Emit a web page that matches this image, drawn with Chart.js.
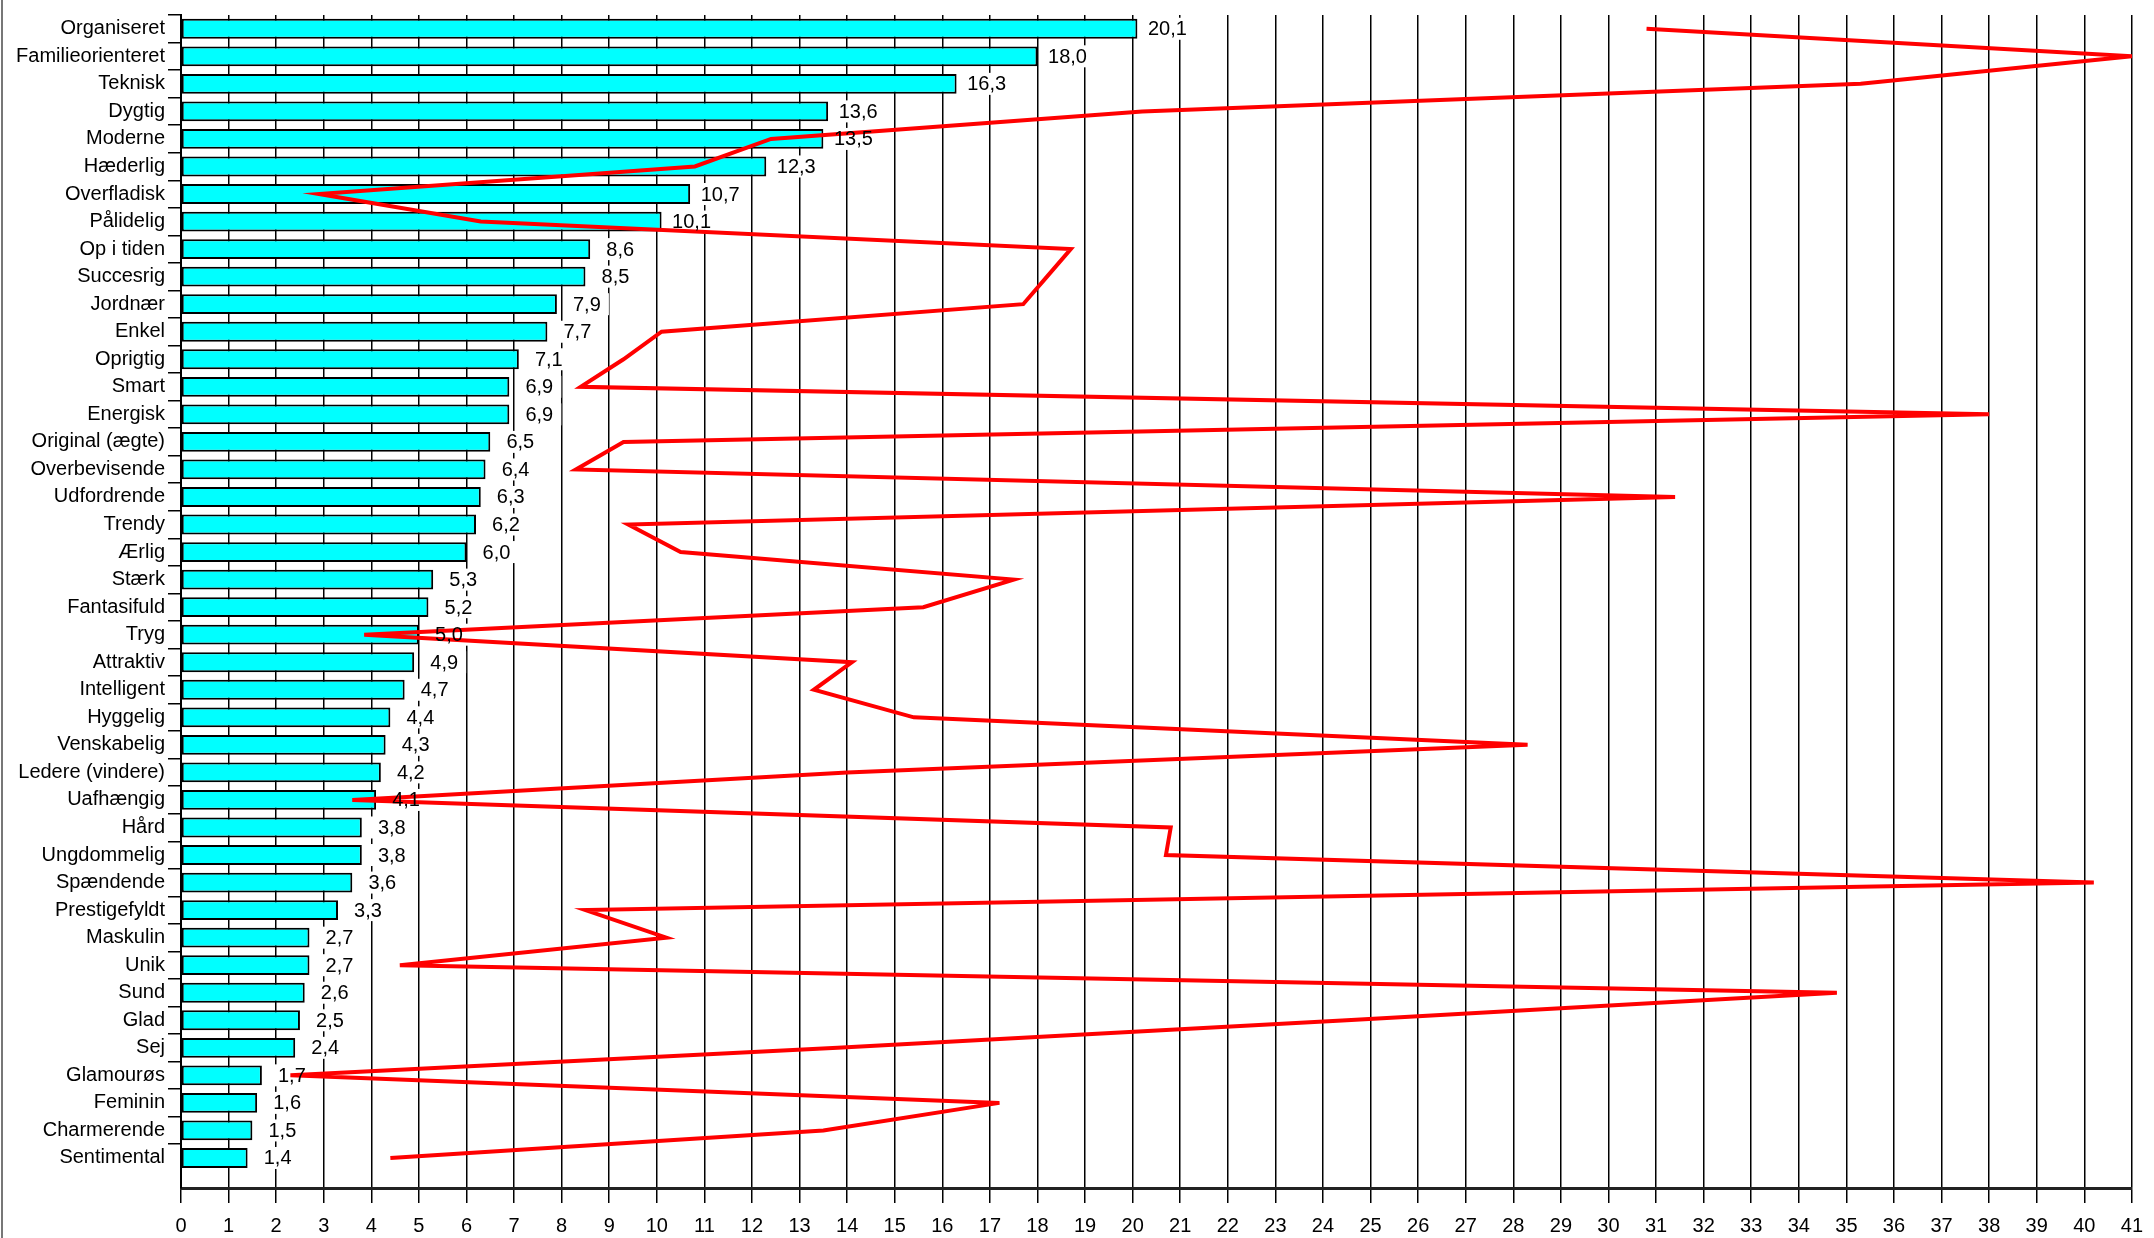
<!DOCTYPE html>
<html>
<head>
<meta charset="utf-8">
<script src="https://cdn.jsdelivr.net/npm/chart.js@4.4.1/dist/chart.umd.min.js"></script>
<style>
  html, body { margin: 0; padding: 0; background: #fff; }
  #wrap { width: 2154px; height: 1238px; position: relative; }
</style>
</head>
<body>
<div id="wrap"><canvas id="c" width="2154" height="1238"></canvas></div>
<script>
// Brand attributes, top to bottom
const categories = [
  'Organiseret', 'Familieorienteret', 'Teknisk', 'Dygtig', 'Moderne', 'Hæderlig',
  'Overfladisk', 'Pålidelig', 'Op i tiden', 'Succesrig', 'Jordnær', 'Enkel',
  'Oprigtig', 'Smart', 'Energisk', 'Original (ægte)', 'Overbevisende', 'Udfordrende',
  'Trendy', 'Ærlig', 'Stærk', 'Fantasifuld', 'Tryg', 'Attraktiv', 'Intelligent',
  'Hyggelig', 'Venskabelig', 'Ledere (vindere)', 'Uafhængig', 'Hård', 'Ungdommelig',
  'Spændende', 'Prestigefyldt', 'Maskulin', 'Unik', 'Sund', 'Glad', 'Sej',
  'Glamourøs', 'Feminin', 'Charmerende', 'Sentimental'
];

// Bar values (percent)
const barValues = [
  20.1, 18.0, 16.3, 13.6, 13.5, 12.3, 10.7, 10.1, 8.6, 8.5, 7.9, 7.7,
  7.1, 6.9, 6.9, 6.5, 6.4, 6.3, 6.2, 6.0, 5.3, 5.2, 5.0, 4.9, 4.7,
  4.4, 4.3, 4.2, 4.1, 3.8, 3.8, 3.6, 3.3, 2.7, 2.7, 2.6, 2.5, 2.4,
  1.7, 1.6, 1.5, 1.4
];

// Second series, drawn as a red line across the same rows
const lineValues = [
  30.8, 41.0, 35.3, 20.2, 12.4, 10.8, 2.9, 6.3, 18.7, 18.2, 17.7, 10.1,
  9.3, 8.4, 38.0, 9.3, 8.3, 31.4, 9.4, 10.5, 17.5, 15.6, 3.85, 14.1, 13.3,
  15.4, 28.3, 14.0, 3.6, 20.8, 20.7, 40.2, 8.5, 10.2, 4.6, 34.8, 24.5, 13.8,
  2.3, 17.2, 13.5, 4.4
];

// Horizontal axis range
const xMin = 0;
const xMax = 41;

const FONT = '"Liberation Sans", Arial, sans-serif';
const FONT_SIZE = 20;
const fmt = v => v.toFixed(1).replace('.', ',');

// White tag boxes behind the value labels (they hide the grid), text on top of everything
const valueLabels = {
  id: 'valueLabels',
  afterDatasetDraw(chart, args) {
    if (args.index !== 0) return;
    const ctx = chart.ctx;
    ctx.save();
    ctx.fillStyle = '#fff';
    args.meta.data.forEach(bar => {
      ctx.fillRect(bar.x + 8, bar.y - 11, 44, 22);
    });
    ctx.restore();
  },
  afterDatasetsDraw(chart) {
    const ctx = chart.ctx;
    const meta = chart.getDatasetMeta(0);
    ctx.save();
    ctx.font = FONT_SIZE + 'px ' + FONT;
    ctx.fillStyle = '#000';
    ctx.textAlign = 'center';
    ctx.textBaseline = 'middle';
    meta.data.forEach((bar, i) => {
      ctx.fillText(fmt(barValues[i]), bar.x + 30, bar.y + 1);
    });
    ctx.restore();
  }
};

// Page background and the thin frame line on the left edge
const frame = {
  id: 'frame',
  beforeDraw(chart) {
    const ctx = chart.ctx;
    ctx.save();
    ctx.fillStyle = '#fff';
    ctx.fillRect(0, 0, chart.width, chart.height);
    ctx.restore();
  },
  afterDraw(chart) {
    const ctx = chart.ctx;
    ctx.save();
    ctx.strokeStyle = '#777';
    ctx.lineWidth = 2;
    ctx.beginPath();
    ctx.moveTo(2, 0);
    ctx.lineTo(2, chart.height);
    ctx.stroke();
    ctx.restore();
  }
};

new Chart(document.getElementById('c'), {
  type: 'bar',
  data: {
    datasets: [
      {
        type: 'bar',
        data: barValues.map((v, i) => ({ x: v, y: i })),
        backgroundColor: '#00FFFF',
        borderColor: '#000',
        borderWidth: 2,
        borderSkipped: false,
        barPercentage: 0.72,
        categoryPercentage: 1,
        order: 2
      },
      {
        type: 'line',
        data: lineValues.map((v, i) => ({ x: v, y: i })),
        borderColor: '#FF0000',
        borderWidth: 4,
        pointRadius: 0,
        tension: 0,
        fill: false,
        order: 1
      }
    ]
  },
  options: {
    indexAxis: 'y',
    responsive: false,
    animation: false,
    devicePixelRatio: 1,
    layout: { autoPadding: false, padding: { top: 10, right: 21, bottom: 0, left: 0 } },
    plugins: { legend: { display: false }, tooltip: { enabled: false } },
    scales: {
      x: {
        type: 'linear',
        position: 'bottom',
        min: xMin,
        max: xMax,
        offset: false,
        ticks: {
          stepSize: 1, autoSkip: false, maxRotation: 0, color: '#000',
          font: { family: FONT, size: FONT_SIZE }, padding: 11
        },
        grid: { color: '#000', lineWidth: 1.5, tickLength: 15, drawOnChartArea: true },
        border: { color: '#222', width: 3 },
        afterFit(s) { s.height = 50; }
      },
      y: {
        type: 'linear',
        reverse: true,
        min: -0.5,
        max: 42.09,
        offset: false,
        afterBuildTicks(s) { s.ticks = categories.map((_, i) => ({ value: i })); },
        ticks: {
          autoSkip: false, color: '#000', padding: 3,
          font: { family: FONT, size: FONT_SIZE },
          callback: v => categories[v] ?? ''
        },
        grid: {
          offset: true, drawOnChartArea: false, lineWidth: 1.5, tickLength: 13,
          // tick marks only between rows; none below the last row
          color: c => (c.type === 'tick' ? '#000' : 'rgba(0,0,0,0)')
        },
        border: { color: '#000', width: 2 },
        afterFit(s) { s.width = 181; }
      }
    }
  },
  plugins: [frame, valueLabels]
});
</script>
</body>
</html>
